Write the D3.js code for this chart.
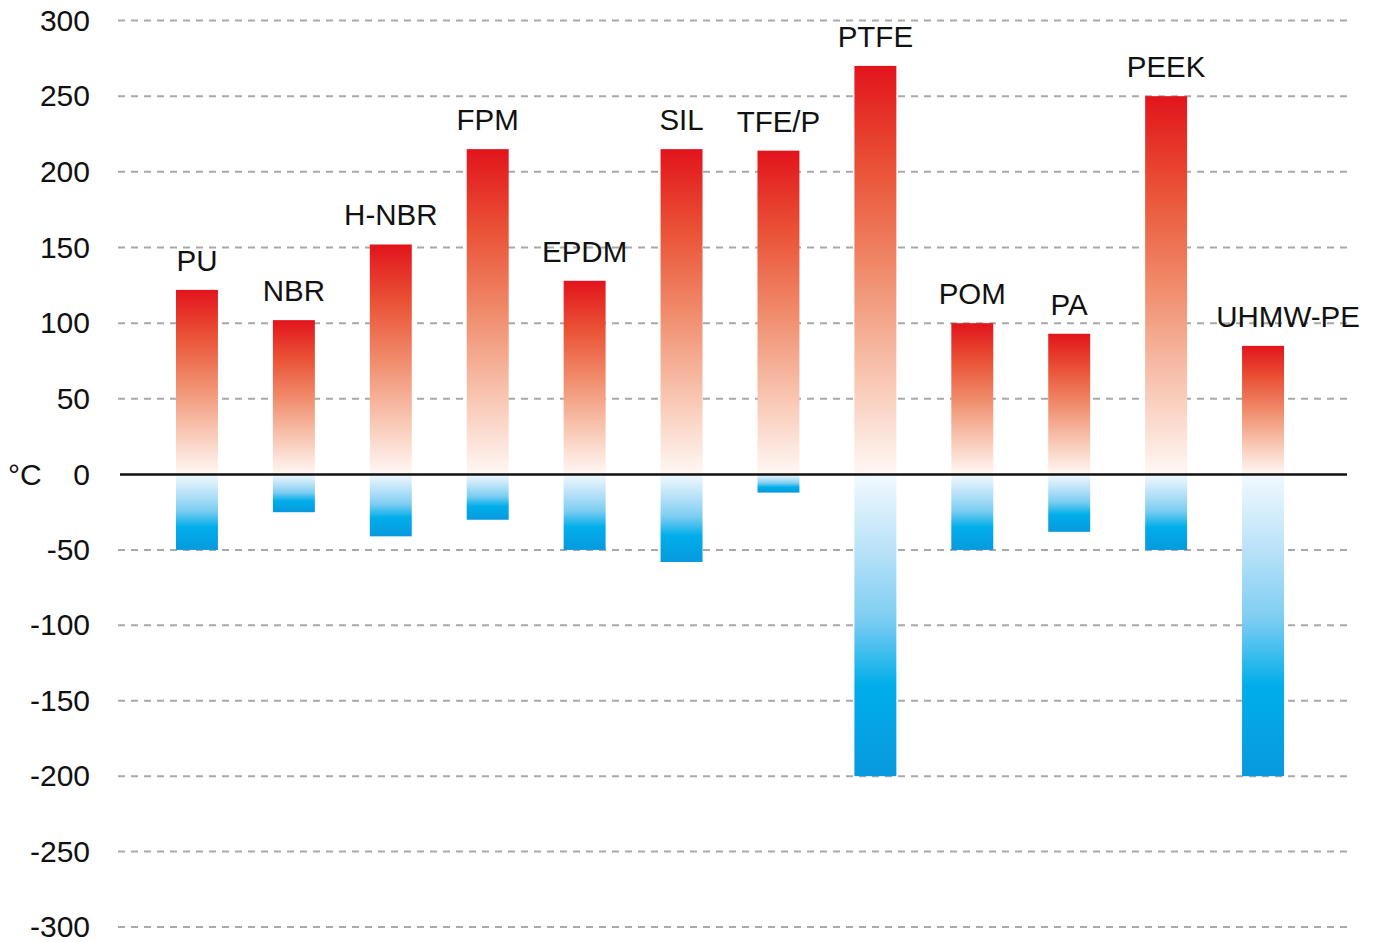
<!DOCTYPE html>
<html>
<head>
<meta charset="utf-8">
<script src="https://cdn.jsdelivr.net/npm/d3@7"></script>
<style>
  html, body { margin: 0; padding: 0; background: #fff; }
  svg { display: block; font-family: "Liberation Sans", Arial, sans-serif; }
</style>
</head>
<body>
<svg id="chart" width="1377" height="942"></svg>
<script>
// Operating temperature range per material (°C)
const materials = ["PU", "NBR", "H-NBR", "FPM", "EPDM", "SIL", "TFE/P", "PTFE", "POM", "PA", "PEEK", "UHMW-PE"];
const maxTemp = [122, 102, 152, 215, 128, 215, 214, 270, 100, 93, 250, 85];
const minTemp = [-50, -25, -41, -30, -50, -58, -12, -200, -50, -38, -50, -200];
const yTicks = [300, 250, 200, 150, 100, 50, 0, -50, -100, -150, -200, -250, -300];
const unitLabel = "°C";

const svg = d3.select("#chart");
const gridLeft = 118, gridRight = 1347;

const y = d3.scaleLinear().domain([-300, 0, 300]).range([927, 474.5, 20.5]);
const x = d3.scaleBand()
  .domain(materials)
  .range([148.5, 1311.5])
  .paddingInner(0.567)
  .paddingOuter(0.2835);

// Gradients: warm fade for the upper limit, cool fade for the lower limit
const defs = svg.append("defs");
const hot = defs.append("linearGradient").attr("id", "hot")
  .attr("x1", 0).attr("y1", 0).attr("x2", 0).attr("y2", 1);
[[0, "#e2141c"], [0.25, "#ea5236"], [0.5, "#f08b6b"], [0.75, "#f8c3ae"], [1, "#fff8f5"]]
  .forEach(([o, c]) => hot.append("stop").attr("offset", o).attr("stop-color", c));
const cold = defs.append("linearGradient").attr("id", "cold")
  .attr("x1", 0).attr("y1", 0).attr("x2", 0).attr("y2", 1);
[[0, "#f2f9fe"], [0.25, "#b9e2f8"], [0.48, "#7dcdf2"], [0.7, "#00aeea"], [1, "#0899de"]]
  .forEach(([o, c]) => cold.append("stop").attr("offset", o).attr("stop-color", c));

// Dashed grid lines
svg.append("g").selectAll("line")
  .data(yTicks.filter(t => t !== 0))
  .join("line")
  .attr("x1", gridLeft).attr("x2", gridRight)
  .attr("y1", d => y(d)).attr("y2", d => y(d))
  .attr("stroke", "#a9a9a9")
  .attr("stroke-width", 2)
  .attr("stroke-dasharray", "7,6");

// Y axis labels (plain hyphen for negatives)
const yAxis = d3.axisLeft(y).tickValues(yTicks).tickFormat(d => String(d)).tickSize(0).tickPadding(0);
const gy = svg.append("g").attr("transform", "translate(90,0)").call(yAxis);
gy.select(".domain").remove();
gy.selectAll("text")
  .attr("font-size", 30)
  .attr("fill", "#111")
  .attr("font-family", "Liberation Sans, Arial, sans-serif");

svg.append("text")
  .attr("x", 8).attr("y", y(0))
  .attr("dy", "0.35em")
  .attr("font-size", 30)
  .attr("fill", "#111")
  .text(unitLabel);

const rows = materials.map((m, i) => ({ m, hi: maxTemp[i], lo: minTemp[i] }));

// Upper-limit bars
svg.append("g").selectAll("rect")
  .data(rows)
  .join("rect")
  .attr("x", d => x(d.m))
  .attr("width", x.bandwidth())
  .attr("y", d => y(d.hi))
  .attr("height", d => y(0) - y(d.hi))
  .attr("fill", "url(#hot)");

// Lower-limit bars
svg.append("g").selectAll("rect")
  .data(rows)
  .join("rect")
  .attr("x", d => x(d.m))
  .attr("width", x.bandwidth())
  .attr("y", y(0))
  .attr("height", d => y(d.lo) - y(0))
  .attr("fill", "url(#cold)");

// Zero line
svg.append("line")
  .attr("x1", 120).attr("x2", gridRight)
  .attr("y1", y(0)).attr("y2", y(0))
  .attr("stroke", "#111")
  .attr("stroke-width", 2.5);

// Material names above each bar; the last one is pushed toward the right margin
const labelNudge = { "UHMW-PE": 25 };
svg.append("g").selectAll("text")
  .data(rows)
  .join("text")
  .attr("x", d => x(d.m) + x.bandwidth() / 2 + (labelNudge[d.m] || 0))
  .attr("y", d => y(d.hi) - 19)
  .attr("text-anchor", "middle")
  .attr("font-size", 29.5)
  .attr("fill", "#111")
  .text(d => d.m);
</script>
</body>
</html>
